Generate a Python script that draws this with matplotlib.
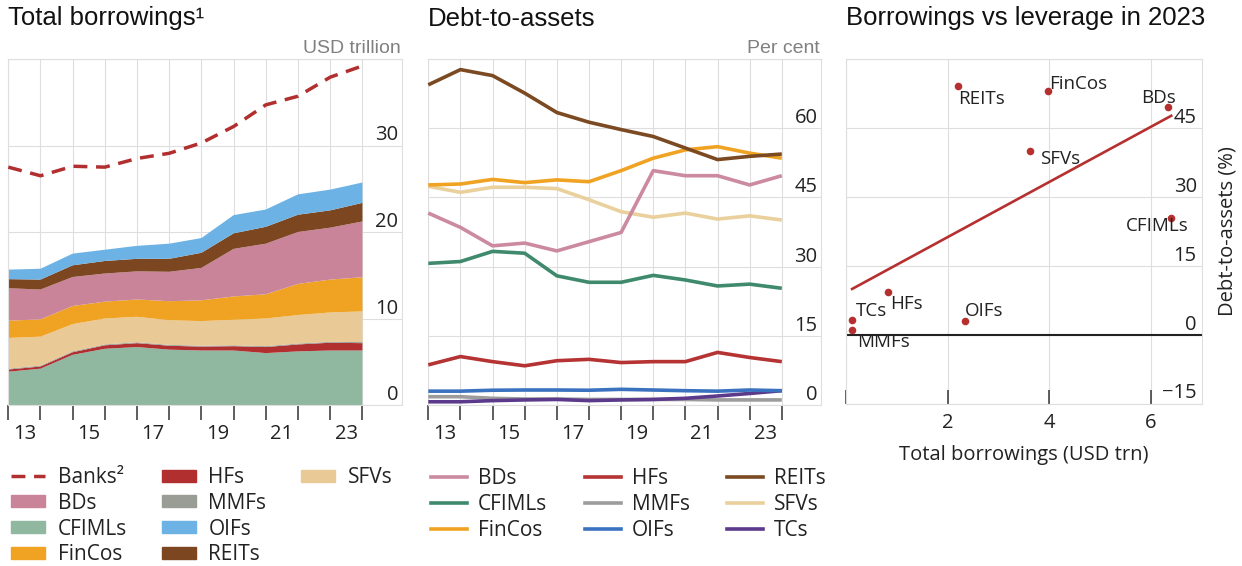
import numpy as np
import matplotlib
matplotlib.use('Agg')
import matplotlib.pyplot as plt
from matplotlib.patches import Patch
from matplotlib.lines import Line2D
from matplotlib.transforms import blended_transform_factory

plt.rcParams['font.family'] = ['Open Sans', 'DejaVu Sans']

# ---------------- data ----------------
n_points = 12
year_labels = ['13', '15', '17', '19', '21', '23']

# Left panel: total borrowings, USD trillion (stacked)
cfimls_b = [3.85, 4.2, 5.8, 6.5, 6.7, 6.4, 6.3, 6.3, 6.0, 6.2, 6.3, 6.3]
hfs_b = [0.25, 0.25, 0.3, 0.4, 0.45, 0.45, 0.45, 0.5, 0.7, 0.8, 0.9, 0.85]
mmfs_b = [0.1, 0.1, 0.1, 0.1, 0.1, 0.1, 0.1, 0.1, 0.1, 0.1, 0.1, 0.12]
sfvs_b = [3.55, 3.35, 3.15, 3.0, 2.95, 2.85, 2.85, 2.95, 3.2, 3.3, 3.4, 3.55]
fincos_b = [2.0, 2.0, 2.1, 1.95, 2.0, 2.2, 2.4, 2.7, 2.8, 3.6, 3.8, 3.95]
bds_b = [3.75, 3.45, 3.35, 3.25, 3.25, 3.4, 3.75, 5.5, 5.85, 6.0, 6.0, 6.45]
reits_b = [1.05, 1.15, 1.35, 1.45, 1.45, 1.5, 1.75, 1.8, 1.95, 2.0, 2.0, 2.15]
oifs_b = [1.1, 1.25, 1.35, 1.3, 1.5, 1.75, 1.7, 2.1, 2.0, 2.35, 2.4, 2.35]
banks_b = [27.5, 26.5, 27.6, 27.5, 28.5, 29.1, 30.3, 32.2, 34.7, 35.7, 37.9, 39.2]

# Middle panel: debt-to-assets, per cent
bds_d = [41.6, 38.5, 34.5, 35.1, 33.4, 35.4, 37.4, 50.8, 49.7, 49.7, 47.7, 49.7]
cfimls_d = [30.7, 31.1, 33.3, 32.9, 28.0, 26.6, 26.6, 28.1, 27.1, 25.8, 26.2, 25.3]
fincos_d = [47.7, 47.9, 48.9, 48.2, 48.8, 48.4, 50.8, 53.5, 55.3, 56.0, 54.6, 53.5]
hfs_d = [8.7, 10.5, 9.4, 8.5, 9.6, 9.9, 9.2, 9.4, 9.4, 11.4, 10.3, 9.4]
mmfs_d = [1.8, 1.8, 1.45, 1.3, 1.3, 1.2, 1.2, 1.2, 1.2, 1.1, 1.1, 1.1]
oifs_d = [3.0, 3.0, 3.2, 3.25, 3.25, 3.2, 3.4, 3.25, 3.1, 3.0, 3.25, 3.1]
reits_d = [69.4, 72.7, 71.4, 67.6, 63.4, 61.3, 59.7, 58.2, 55.7, 53.2, 53.9, 54.4]
sfvs_d = [47.4, 46.1, 47.2, 47.2, 46.9, 44.5, 41.9, 40.7, 41.6, 40.3, 41.0, 40.1]
tcs_d = [0.7, 0.7, 0.95, 1.1, 1.2, 0.95, 1.1, 1.2, 1.45, 1.95, 2.5, 3.1]

# Right panel: 2023 scatter
sc_names = ['REITs', 'FinCos', 'BDs', 'SFVs', 'CFIMLs', 'HFs', 'OIFs', 'TCs', 'MMFs']
sc_borrow = [2.2, 3.97, 6.34, 3.63, 6.4, 0.83, 2.34, 0.12, 0.12]
sc_debt = [54.2, 53.1, 49.5, 40.0, 25.3, 9.25, 3.04, 3.25, 1.08]

left_yticks = [0, 10, 20, 30]
mid_yticks = [0, 15, 30, 45, 60]
right_yticks = [-15, 0, 15, 30, 45]
right_xticks = [0, 2, 4, 6]

# ---------------- style ----------------
C = {
    'CFIMLs_a': '#90b7a0', 'HFs': '#b22f2f', 'MMFs_a': '#9a9c96', 'SFVs_a': '#e9c995',
    'FinCos': '#f0a323', 'BDs_a': '#c98499', 'REITs': '#7b4620', 'OIFs_a': '#6cb2e4',
    'BDs_l': '#cc8aa0', 'CFIMLs_l': '#3f8a6c', 'MMFs_l': '#9c9c9c', 'OIFs_l': '#3a72bf',
    'SFVs_l': '#e9d09d', 'TCs_l': '#5b3a8c', 'REITs_l': '#7b4a22', 'HFs_l': '#b53333',
}
GRID = '#dedede'
TXT = '#222222'
TICKFS = 14.5
W, H = 1242, 566

fig = plt.figure(figsize=(W / 100, H / 100), dpi=100)


def rect(l, t, r, b):
    return [l / W, 1 - b / H, (r - l) / W, (b - t) / H]


axL = fig.add_axes(rect(8.3, 59, 401.7, 405))
axM = fig.add_axes(rect(428.3, 59, 821.0, 405))
axR = fig.add_axes(rect(846, 59, 1201.7, 403.5))


def base_style(ax):
    for s in ax.spines.values():
        s.set_color(GRID)
        s.set_linewidth(0.8)
    ax.set_axisbelow(True)


def ylabels(ax, vals, dx):
    tr = blended_transform_factory(ax.transAxes, ax.transData)
    for v in vals:
        lab = f'{v}' if v >= 0 else '\u2212' + f'{abs(v)}'
        ax.annotate(lab, xy=(1, v), xycoords=tr, xytext=(dx, 3.6),
                    textcoords='offset points', ha='right', va='baseline',
                    fontsize=TICKFS, color=TXT, annotation_clip=False)


def time_axis(ax, yt, ylim):
    base_style(ax)
    x = np.arange(n_points)
    ax.set_xlim(0, 12.22)
    ax.set_ylim(*ylim)
    ax.set_xticks(x)
    ax.set_xticklabels([])
    ax.set_xticks([int(l) - 13 + 0.5 for l in year_labels], minor=True)
    ax.set_xticklabels(year_labels, minor=True)
    ax.tick_params(axis='x', which='major', length=10.8, width=1.1, color='#333333', direction='out')
    ax.tick_params(axis='x', which='minor', length=0, pad=14, labelsize=TICKFS, labelcolor=TXT)
    step = yt[1] - yt[0]
    ax.set_yticks(list(yt) + [yt[-1] + step])
    ax.tick_params(axis='y', length=0, labelleft=False)
    ax.grid(True, which='major', color=GRID, lw=0.8)
    ylabels(ax, yt, -2.5)
    return x


# ---------------- left panel ----------------
x = time_axis(axL, left_yticks, (0, 40))
stack = [cfimls_b, hfs_b, mmfs_b, sfvs_b, fincos_b, bds_b, reits_b, oifs_b]
stack_cols = [C['CFIMLs_a'], C['HFs'], C['MMFs_a'], C['SFVs_a'], C['FinCos'], C['BDs_a'], C['REITs'], C['OIFs_a']]
axL.stackplot(x, *stack, colors=stack_cols, linewidth=0, zorder=2)
dash = (0, (4.0, 2.5))
axL.plot(x, banks_b, color=C['HFs'], lw=2.5, ls=dash, zorder=3)

# ---------------- middle panel ----------------
x = time_axis(axM, mid_yticks, (0, 75))
mid_series = [
    ('BDs', bds_d, C['BDs_l']), ('CFIMLs', cfimls_d, C['CFIMLs_l']), ('FinCos', fincos_d, C['FinCos']),
    ('HFs', hfs_d, C['HFs_l']), ('MMFs', mmfs_d, C['MMFs_l']), ('OIFs', oifs_d, C['OIFs_l']),
    ('REITs', reits_d, C['REITs_l']), ('SFVs', sfvs_d, C['SFVs_l']), ('TCs', tcs_d, C['TCs_l']),
]
draw_order = ['SFVs', 'BDs', 'FinCos', 'REITs', 'CFIMLs', 'HFs', 'MMFs', 'TCs', 'OIFs']
lookup = {n: (v, c) for n, v, c in mid_series}
for n in draw_order:
    v, c = lookup[n]
    axM.plot(x, v, color=c, lw=2.6, solid_capstyle='butt', zorder=3, clip_on=False)

# ---------------- right panel ----------------
base_style(axR)
axR.set_xlim(0, 7)
axR.set_ylim(-15, 60)
axR.set_xticks(right_xticks)
axR.set_xticklabels(['' if v == 0 else str(v) for v in right_xticks])
axR.tick_params(axis='x', length=10, width=1.1, color='#333333', direction='in',
                pad=6.5, labelsize=TICKFS, labelcolor=TXT)
axR.set_yticks(right_yticks + [60])
axR.tick_params(axis='y', length=0, labelleft=False)
axR.grid(True, color=GRID, lw=0.8)
axR.axhline(0, color='#222222', lw=1.5, zorder=2)
ylabels(axR, right_yticks, -3.6)

coef = np.polyfit(sc_borrow, sc_debt, 1)
xx = np.array([min(sc_borrow), max(sc_borrow)])
axR.plot(xx, np.polyval(coef, xx), color='#b5302f', lw=1.9, zorder=3)
axR.scatter(sc_borrow, sc_debt, s=30, color='#b5302f', zorder=4, linewidths=0)

label_style = {
    'REITs': ((0, -13.2), 'left'), 'FinCos': ((1, 1.2), 'left'), 'BDs': ((5.3, 3.1), 'right'),
    'SFVs': ((6.7, -9.1), 'left'), 'CFIMLs': ((12.7, -8.9), 'right'), 'HFs': ((1.2, -12.2), 'left'),
    'OIFs': ((0, 3.1), 'left'), 'TCs': ((2.6, 2.4), 'left'), 'MMFs': ((3.8, -12.5), 'left'),
}
for nm, bx, dy in zip(sc_names, sc_borrow, sc_debt):
    off, ha = label_style[nm]
    axR.annotate(nm, xy=(bx, dy), xytext=off, textcoords='offset points', ha=ha,
                 va='baseline', fontsize=13.5, color=TXT, zorder=5)

fig.text(1024 / W, 1 - 455 / H, 'Total borrowings (USD trn)', ha='center', va='center',
         fontsize=TICKFS, color=TXT)
fig.text(1227 / W, 1 - 231 / H, 'Debt-to-assets (%)', ha='center', va='center',
         rotation=90, fontsize=TICKFS, color=TXT)

# ---------------- titles & units ----------------
TF = ['Liberation Sans', 'DejaVu Sans']
fig.text(8 / W, 1 - 25.5 / H, 'Total borrowings\u00b9', family=TF, fontsize=18.5, va='baseline', color='#111111')
fig.text(428 / W, 1 - 25.5 / H, 'Debt-to-assets', family=TF, fontsize=18.5, va='baseline', color='#111111')
fig.text(846 / W, 1 - 25.5 / H, 'Borrowings vs leverage in 2023', family=TF, fontsize=18.5, va='baseline', color='#111111')
fig.text(400.5 / W, 1 - 53 / H, 'USD trillion', family=TF, fontsize=14, ha='right', va='baseline', color='#808080')
fig.text(820 / W, 1 - 53 / H, 'Per cent', family=TF, fontsize=14, ha='right', va='baseline', color='#808080')

# ---------------- legends ----------------
blank = Patch(facecolor='none', edgecolor='none')
left_handles = [
    Line2D([], [], color=C['HFs'], lw=2.5, ls=dash),
    Patch(color=C['BDs_a']), Patch(color=C['CFIMLs_a']), Patch(color=C['FinCos']),
    Patch(color=C['HFs']), Patch(color=C['MMFs_a']), Patch(color=C['OIFs_a']), Patch(color=C['REITs']),
    Patch(color=C['SFVs_a']), blank, blank, blank,
]
left_labels = ['Banks\u00b2', 'BDs', 'CFIMLs', 'FinCos', 'HFs', 'MMFs', 'OIFs', 'REITs', 'SFVs', '', '', '']
fig.legend(left_handles, left_labels, loc='upper left', bbox_to_anchor=(11 / W, 1 - 467 / H),
           ncol=3, frameon=False, fontsize=15, handlelength=1.65, handleheight=0.5,
           handletextpad=0.6, columnspacing=1.65, labelspacing=0.23, borderpad=0, borderaxespad=0,
           labelcolor=TXT)

mid_handles = [Line2D([], [], color=c, lw=2.6) for _, _, c in mid_series]
mid_labels = [n for n, _, _ in mid_series]
fig.legend(mid_handles, mid_labels, loc='upper left', bbox_to_anchor=(431 / W, 1 - 468 / H),
           ncol=3, frameon=False, fontsize=15, handlelength=1.75, handletextpad=0.5,
           columnspacing=1.8, labelspacing=0.24, borderpad=0, borderaxespad=0, labelcolor=TXT)

fig.savefig('out.png', dpi=100)
